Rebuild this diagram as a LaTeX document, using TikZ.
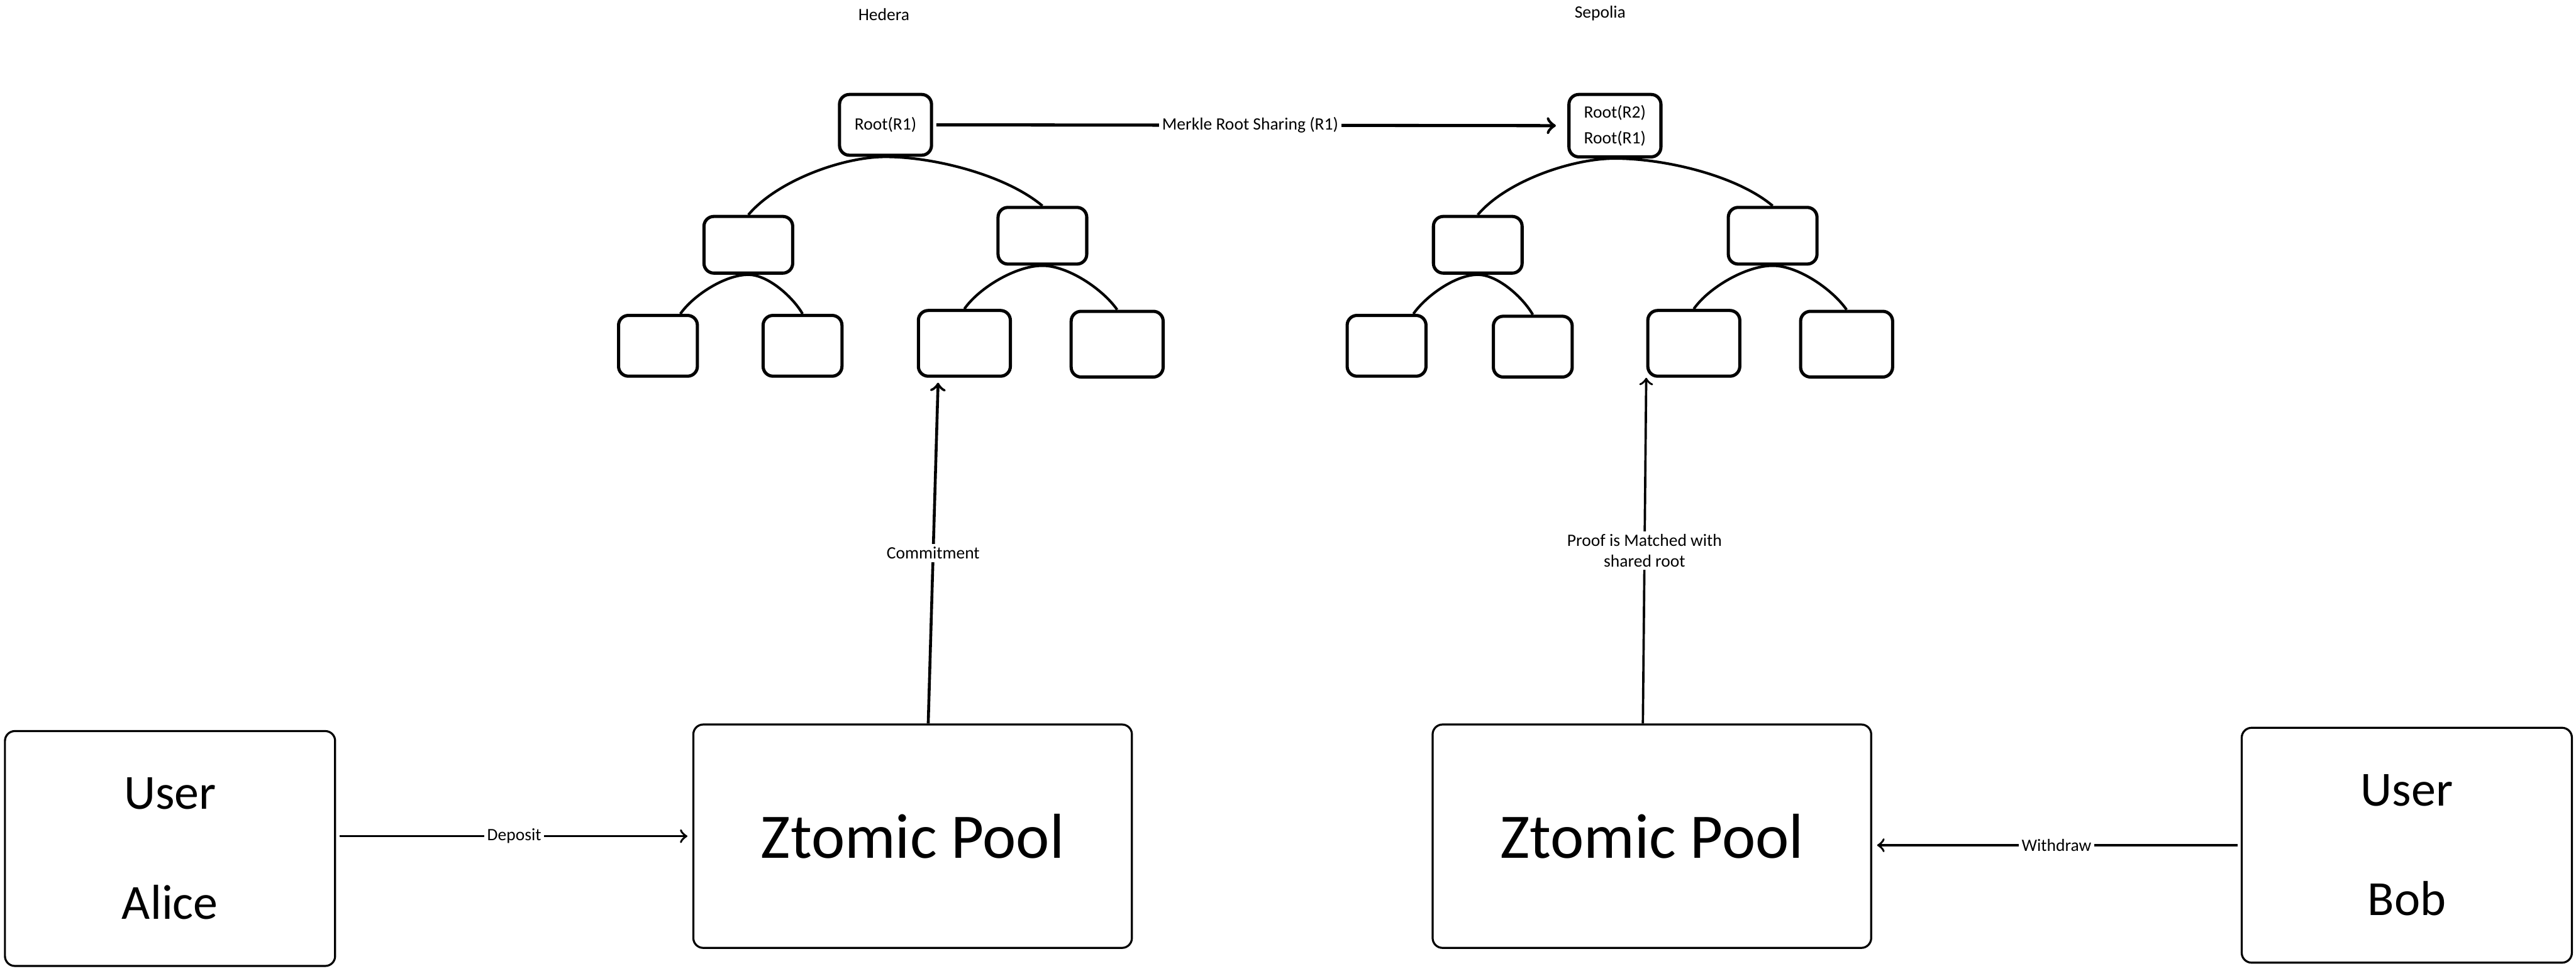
\documentclass[tikz,border=0pt]{standalone}
\usepackage{fontspec}
\setmainfont{Carlito}
\usetikzlibrary{positioning,shapes,arrows,calc}

\begin{document}
\begin{tikzpicture}[x=0.02cm, y=0.02cm,
    treebox/.style={draw, line width=1.1pt, rounded corners=0.12cm, inner sep=1pt, font=\fontsize{6}{9}\selectfont, align=center},
    rootbox/.style={treebox, minimum width=1.12cm, minimum height=0.74cm},
    midbox/.style={treebox, minimum width=1.08cm, minimum height=0.69cm},
    leafbox/.style={treebox, minimum width=0.96cm, minimum height=0.74cm},
    wideleaf/.style={treebox, minimum width=1.12cm, minimum height=0.8cm},
    bigbox/.style={draw, line width=0.7pt, rounded corners=0.12cm, align=center},
    userbox/.style={bigbox, minimum width=4.02cm, minimum height=2.86cm, font=\fontsize{17}{38}\selectfont},
    poolbox/.style={bigbox, minimum width=5.34cm, minimum height=2.72cm, font=\fontsize{22}{26}\selectfont},
    branch/.style={line width=0.9pt, looseness=0.75},
    flow/.style={->, line width=0.8pt},
    lbl/.style={fill=white, inner sep=1pt, font=\fontsize{6}{7}\selectfont, align=center}]
    \useasboundingbox (0,0) rectangle (1568,-591);

    % chain titles
    \node[font=\fontsize{6}{7}\selectfont] (hedera) at (538,-9) {Hedera};
    \node[font=\fontsize{6}{7}\selectfont] (sepolia) at (974,-8) {Sepolia};

    % Hedera tree
    \node[rootbox] (hroot) at (539,-76) {Root(R1)};
    \node[midbox] (hl) at (455.5,-149) {};
    \node[midbox] (hr) at (634.5,-143.5) {};
    \node[leafbox] (hll) at (400.5,-210.5) {};
    \node[leafbox] (hlr) at (488.5,-210.5) {};
    \node[wideleaf] (hrl) at (587,-209) {};
    \node[wideleaf] (hrr) at (680,-209.5) {};
    \draw[branch] (hl.north) to[out=50,in=180] (hroot.south) to[out=0,in=140] (hr.north);
    \draw[branch] (hll.55) to[out=55,in=180] (hl.south) to[out=0,in=120] (hlr.north);
    \draw[branch] (hrl.north) to[out=55,in=180] (hr.south) to[out=0,in=125] (hrr.north);

    % Sepolia tree
    \node[rootbox, minimum height=0.76cm] (sroot) at (983,-76.5) {Root(R2)\\Root(R1)};
    \node[midbox] (sl) at (899.5,-149) {};
    \node[midbox] (sr) at (1079,-143.5) {};
    \node[leafbox] (sll) at (844,-210.5) {};
    \node[leafbox] (slr) at (933,-211) {};
    \node[wideleaf] (srl) at (1031,-209) {};
    \node[wideleaf] (srr) at (1124,-209.5) {};
    \draw[branch] (sl.north) to[out=50,in=180] (sroot.south) to[out=0,in=140] (sr.north);
    \draw[branch] (sll.50) to[out=55,in=180] (sl.south) to[out=0,in=120] (slr.north);
    \draw[branch] (srl.north) to[out=55,in=180] (sr.south) to[out=0,in=125] (srr.north);

    % users and pools
    \node[userbox] (alice) at (103.5,-516.5) {User\\Alice};
    \node[poolbox] (hpool) at (555.5,-509) {Ztomic Pool};
    \node[poolbox] (spool) at (1005.5,-509) {Ztomic Pool};
    \node[userbox] (bob) at (1465,-514.5) {User\\Bob};

    % flows
    \draw[flow, line width=1.1pt, shorten <=0.04cm, shorten >=0.14cm] (hroot.east) -- (sroot.west)
        node[lbl, midway] {Merkle Root Sharing (R1)};
    \draw[flow, shorten <=0.04cm, shorten >=0.06cm] (alice.east |- hpool.west) -- (hpool.west)
        node[lbl, midway] {Deposit};
    \draw[flow, line width=1pt] ([xshift=0.19cm]hpool.north) -- ([xshift=-0.32cm, yshift=-0.06cm]hrl.south)
        node[lbl, midway] {Commitment};
    \draw[flow] ([xshift=-0.11cm]spool.north) -- (srl.south west)
        node[lbl, midway] {Proof is Matched with\\shared root};
    \draw[flow, shorten <=0.04cm, shorten >=0.06cm] (bob.west) -- (spool.east |- bob.west)
        node[lbl, midway] {Withdraw};
\end{tikzpicture}
\end{document}
